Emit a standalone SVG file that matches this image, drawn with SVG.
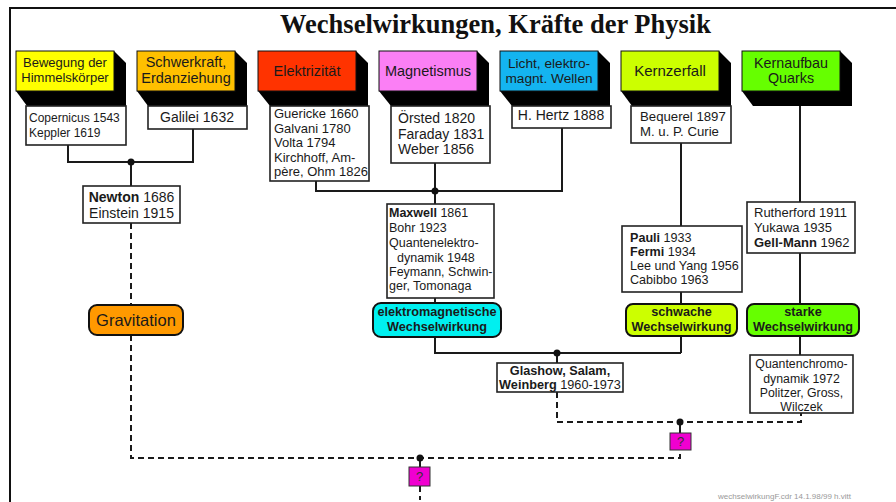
<svg xmlns="http://www.w3.org/2000/svg" width="896" height="502" viewBox="0 0 896 502">
  <defs>
    <style>
      text { font-family: "Liberation Sans", Arial, sans-serif; fill: #1a1a1a; }
      .title { font-family: "Liberation Serif", "Times New Roman", serif; font-weight: bold; font-size: 26.5px; fill: #111; }
      .hd { font-size: 14px; text-anchor: middle; }
      .bd { font-size: 13px; }
      .b { font-weight: bold; }
      .ww { font-size: 12.7px; font-weight: bold; text-anchor: middle; }
      .shadow { fill: #000; }
      .face { stroke: #111; stroke-width: 1; }
      .box { fill: #fff; stroke: #222; stroke-width: 1.6; }
      .rbox { stroke: #111; stroke-width: 2; }
      .q { fill: #f000d0; stroke: #333; stroke-width: 1; }
      .wire { fill: none; stroke: #1a1a1a; stroke-width: 2; }
      .dash { fill: none; stroke: #1a1a1a; stroke-width: 2; stroke-dasharray: 6 4; }
      .dot { fill: #111; }
      .frame { stroke: #111; stroke-width: 2; fill: none; }
    </style>
  </defs>

  <rect width="896" height="502" fill="#fff"/>
  <path class="frame" d="M10 502 V8 H896"/>

  <text class="title" x="495.5" y="33" text-anchor="middle">Wechselwirkungen, Kräfte der Physik</text>

  <!-- connectors -->
  <g id="connectors">
    <path class="wire" d="M68 145 V162 H193 V129"/>
    <path class="wire" d="M131 162 V186"/>
    <path class="dash" d="M131 223 V305"/>
    <path class="dash" d="M131 335 V458 H680 V450"/>
    <path class="wire" d="M420 458 V467"/>
    <path class="dash" d="M420 486 V500"/>

    <path class="wire" d="M316 181 V191 H562 V128"/>
    <path class="wire" d="M435 163 V204"/>
    <path class="wire" d="M435 298 V303"/>
    <path class="wire" d="M435 337 V353 H681"/>
    <path class="wire" d="M681 143 V226"/>
    <path class="wire" d="M681 292 V304"/>
    <path class="wire" d="M681 336 V353"/>
    <path class="wire" d="M557 353 V363"/>

    <path class="wire" d="M800 106 V202"/>
    <path class="wire" d="M800 253 V304"/>
    <path class="wire" d="M800 336 V355"/>

    <path class="dash" d="M557 392 V422 H801 V413"/>
    <path class="wire" d="M680 422 V433"/>

    <circle class="dot" cx="131" cy="162" r="3.5"/>
    <circle class="dot" cx="435" cy="191" r="3.5"/>
    <circle class="dot" cx="557" cy="353" r="3.5"/>
    <circle class="dot" cx="680" cy="422" r="3.5"/>
    <circle class="dot" cx="420" cy="458" r="3.5"/>
  </g>

  <!-- header blocks -->
  <g id="bewegung">
    <polygon class="shadow" points="16,51 114,51 126,63 126,106 27,106 16,91"/>
    <rect class="face" x="16" y="51" width="98" height="40" fill="#ffff00"/>
    <text class="hd" x="65" y="67" style="font-size:13px">Bewegung der</text>
    <text class="hd" x="65" y="82" style="font-size:13px">Himmelskörper</text>
    <rect class="box" x="26" y="106" width="100" height="39"/>
    <text x="29" y="122" style="font-size:12px">Copernicus 1543</text>
    <text x="29" y="137" style="font-size:12px">Keppler 1619</text>
  </g>

  <g id="schwerkraft">
    <polygon class="shadow" points="137,51 235,51 247,63 247,106 148,106 137,91"/>
    <rect class="face" x="137" y="51" width="98" height="40" fill="#ffc000"/>
    <text class="hd" x="186" y="67" style="font-size:14.5px">Schwerkraft,</text>
    <text class="hd" x="186" y="83" style="font-size:14.5px">Erdanziehung</text>
    <rect class="box" x="148" y="106" width="99" height="23"/>
    <text x="197" y="122" text-anchor="middle" style="font-size:14px">Galilei 1632</text>
  </g>

  <g id="elektrizitaet">
    <polygon class="shadow" points="258,51 356,51 368,63 368,106 270,106 258,91"/>
    <rect class="face" x="258" y="51" width="98" height="40" fill="#ff3300"/>
    <text class="hd" x="307" y="76" style="font-size:14.5px">Elektrizität</text>
    <rect class="box" x="270" y="106" width="99" height="75"/>
    <text class="bd" x="274" y="118">Guericke 1660</text>
    <text class="bd" x="274" y="132.5">Galvani 1780</text>
    <text class="bd" x="274" y="147">Volta 1794</text>
    <text class="bd" x="274" y="161.5">Kirchhoff, Am-</text>
    <text class="bd" x="274" y="176">père, Ohm 1826</text>
  </g>

  <g id="magnetismus">
    <polygon class="shadow" points="379,51 477,51 489,63 489,106 391,106 379,91"/>
    <rect class="face" x="379" y="51" width="98" height="40" fill="#fb7ff5"/>
    <text class="hd" x="428" y="76" style="font-size:14.5px">Magnetismus</text>
    <rect class="box" x="391" y="106" width="99" height="57"/>
    <text x="398" y="123" style="font-size:14px">Örsted 1820</text>
    <text x="398" y="138.5" style="font-size:14px">Faraday 1831</text>
    <text x="398" y="154" style="font-size:14px">Weber 1856</text>
  </g>

  <g id="licht">
    <polygon class="shadow" points="500,51 598,51 610,63 610,106 512,106 500,91"/>
    <rect class="face" x="500" y="51" width="98" height="40" fill="#14b4f0"/>
    <text class="hd" x="549" y="68" style="font-size:13.7px">Licht, elektro-</text>
    <text class="hd" x="549" y="83" style="font-size:13.7px">magnt. Wellen</text>
    <rect class="box" x="512" y="106" width="99" height="22"/>
    <text x="561" y="120" text-anchor="middle" style="font-size:14px">H. Hertz 1888</text>
  </g>

  <g id="kernzerfall">
    <polygon class="shadow" points="621,51 719,51 731,63 731,106 632,106 621,91"/>
    <rect class="face" x="621" y="51" width="98" height="40" fill="#ccff00"/>
    <text class="hd" x="670" y="76" style="font-size:15px">Kernzerfall</text>
    <rect class="box" x="631" y="106" width="100" height="37"/>
    <text x="640" y="121" style="font-size:13.2px">Bequerel 1897</text>
    <text x="640" y="136" style="font-size:13.2px">M. u. P. Curie</text>
  </g>

  <g id="kernaufbau">
    <polygon class="shadow" points="742,51 840,51 852,63 852,106 753,106 742,91"/>
    <rect class="face" x="742" y="51" width="98" height="40" fill="#66ff00"/>
    <text class="hd" x="791" y="68" style="font-size:14.3px">Kernaufbau</text>
    <text class="hd" x="791" y="83" style="font-size:14.3px">Quarks</text>
  </g>

  <!-- lower nodes -->
  <g id="newton">
    <rect class="box" x="83" y="186" width="97" height="37"/>
    <text x="131.5" y="202" text-anchor="middle" style="font-size:14px"><tspan class="b">Newton</tspan> 1686</text>
    <text x="131.5" y="217.5" text-anchor="middle" style="font-size:14px">Einstein 1915</text>
  </g>

  <g id="gravitation">
    <rect class="rbox" x="89" y="305" width="94" height="30" rx="8" fill="#ff9900"/>
    <text x="136" y="326" text-anchor="middle" style="font-size:16.5px">Gravitation</text>
  </g>

  <g id="maxwell">
    <rect class="box" x="387" y="204" width="107" height="94"/>
    <text x="389" y="217" style="font-size:12.5px"><tspan class="b">Maxwell</tspan> 1861</text>
    <text x="389" y="232" style="font-size:12.5px">Bohr 1923</text>
    <text x="389" y="247" style="font-size:12.5px">Quantenelektro-</text>
    <text x="397" y="261.5" style="font-size:12.5px">dynamik 1948</text>
    <text x="389" y="276" style="font-size:12.5px">Feymann, Schwin-</text>
    <text x="389" y="290" style="font-size:12.5px">ger, Tomonaga</text>
  </g>

  <g id="em-wechselwirkung">
    <rect class="rbox" x="373" y="303" width="128" height="34" rx="8" fill="#00f0f0"/>
    <text class="ww" x="437" y="316">elektromagnetische</text>
    <text class="ww" x="437" y="330.5">Wechselwirkung</text>
  </g>

  <g id="pauli">
    <rect class="box" x="622" y="226" width="120" height="66"/>
    <text x="630" y="242" style="font-size:12.6px"><tspan class="b">Pauli</tspan> 1933</text>
    <text x="630" y="256" style="font-size:12.6px"><tspan class="b">Fermi</tspan> 1934</text>
    <text x="630" y="270" style="font-size:12.6px">Lee und Yang 1956</text>
    <text x="630" y="284" style="font-size:12.6px">Cabibbo 1963</text>
  </g>

  <g id="schwache-wechselwirkung">
    <rect class="rbox" x="626" y="304" width="111" height="32" rx="7" fill="#ccff00"/>
    <text class="ww" x="681.5" y="316">schwache</text>
    <text class="ww" x="681.5" y="330.5">Wechselwirkung</text>
  </g>

  <g id="rutherford">
    <rect class="box" x="747" y="202" width="108" height="51"/>
    <text class="bd" x="754" y="217">Rutherford 1911</text>
    <text class="bd" x="754" y="232">Yukawa 1935</text>
    <text class="bd" x="754" y="246.5"><tspan class="b">Gell-Mann</tspan> 1962</text>
  </g>

  <g id="starke-wechselwirkung">
    <rect class="rbox" x="747" y="304" width="112" height="32" rx="7" fill="#66ff00"/>
    <text class="ww" x="803" y="316">starke</text>
    <text class="ww" x="803" y="330.5">Wechselwirkung</text>
  </g>

  <g id="glashow">
    <rect class="box" x="497" y="363" width="126" height="29"/>
    <text x="560" y="375" text-anchor="middle" class="b" style="font-size:12.7px">Glashow, Salam,</text>
    <text x="560" y="389" text-anchor="middle" style="font-size:12.7px"><tspan class="b">Weinberg</tspan> 1960-1973</text>
  </g>

  <g id="qcd">
    <rect class="box" x="750" y="355" width="103" height="58"/>
    <text x="801.5" y="368" text-anchor="middle" style="font-size:12.3px">Quantenchromo-</text>
    <text x="801.5" y="382.5" text-anchor="middle" style="font-size:12.3px">dynamik 1972</text>
    <text x="801.5" y="397" text-anchor="middle" style="font-size:12.3px">Politzer, Gross,</text>
    <text x="801.5" y="411" text-anchor="middle" style="font-size:12.3px">Wilczek</text>
  </g>

  <g id="unknown-1">
    <rect class="q" x="670" y="433" width="21" height="17"/>
    <text x="680.5" y="446" text-anchor="middle" style="font-size:13px; fill:#333">?</text>
  </g>

  <g id="unknown-2">
    <rect class="q" x="409" y="467" width="21" height="19"/>
    <text x="419.5" y="481" text-anchor="middle" style="font-size:13px; fill:#333">?</text>
  </g>

  <text x="718" y="499" style="font-size:8px; fill:#999">wechselwirkungF.cdr  14.1.98/99  h.vitt</text>
</svg>
